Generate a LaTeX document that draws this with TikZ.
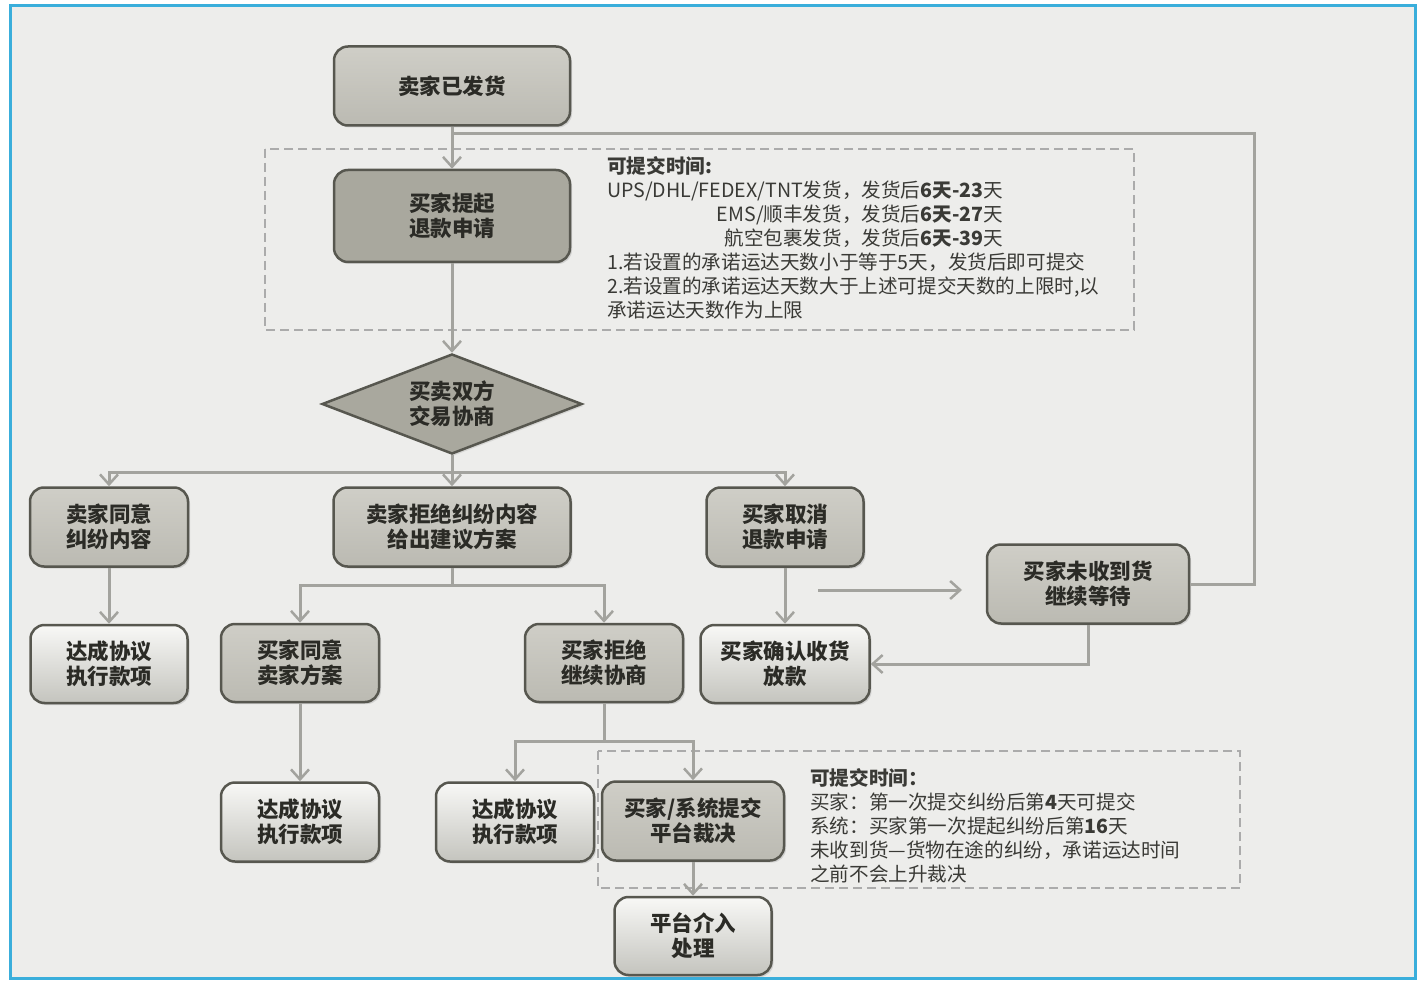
\documentclass[tikz,border=0pt]{standalone}
\usepackage{fontspec}
\setmainfont{Noto Sans CJK SC}
\usetikzlibrary{arrows.meta,shapes.geometric,shadows}
\definecolor{bgc}{HTML}{EDEDEB}
\definecolor{framec}{HTML}{3AAEDB}
\definecolor{bord}{HTML}{57574F}
\definecolor{midT}{HTML}{CFCEC7}
\definecolor{midB}{HTML}{BBBAB2}
\definecolor{darkF}{HTML}{A9A89E}
\definecolor{lightT}{HTML}{F8F8F6}
\definecolor{lightB}{HTML}{C4C4BE}
\definecolor{connc}{HTML}{A3A39E}
\definecolor{dashc}{HTML}{ABABAB}
\definecolor{txtc}{HTML}{2B2B26}
\definecolor{notec}{HTML}{3A3A36}
\newcommand\boxtxt{\fontsize{21.5}{25}\selectfont\bfseries}
\newcommand\notetxt{\fontsize{19.6}{24}\selectfont}
\newlength\upsw
\tikzset{
  box/.style={draw=bord, line width=2.5pt, rounded corners=14pt, align=center,
    font=\boxtxt, text=txtc, inner sep=0pt,
    drop shadow={opacity=0.25, shadow xshift=2pt, shadow yshift=-2pt}},
  midbox/.style={box, top color=midT, bottom color=midB},
  darkbox/.style={box, fill=darkF},
  lightbox/.style={box, top color=lightT, bottom color=lightB},
  conn/.style={draw=connc, line width=3pt},
  arr/.style={conn, -{Straight Barb[length=10pt,width=18pt,line width=2.5pt]}},
  dbox/.style={draw=dashc, line width=2pt, dash pattern=on 9pt off 5pt},
  note/.style={align=left, anchor=north west, inner sep=0pt, font=\notetxt, text=notec},
}
\begin{document}
\settowidth{\upsw}{\notetxt UPS/DHL/FEDEX/TNT发货，发货后\textbf{6天-23}天}%
\begin{tikzpicture}[x=1pt,y=-1pt]
\useasboundingbox (0,0) rectangle (1423,981);
\fill[white] (0,0) rectangle (1423,981);
\fill[bgc] (10,6) rectangle (1415,978);
\draw[framec, line width=3pt] (10,6) rectangle (1415,978);

% dashed annotation frames
\draw[dbox] (265,149) rectangle (1134,330);
\draw[dbox] (598,751) rectangle (1240,888);

% nodes
\node[midbox, minimum width=236pt, minimum height=79pt] (n1) at (452,86) {卖家已发货};
\node[darkbox, minimum width=236pt, minimum height=92pt] (n2) at (452,216) {买家提起\\退款申请};
\node[draw=bord, line width=2.5pt, fill=darkF, shape=diamond, aspect=2.6, inner sep=0pt,
  minimum width=260pt, minimum height=100pt, align=center, font=\boxtxt, text=txtc,
  drop shadow={opacity=0.2, shadow xshift=2pt, shadow yshift=-2pt}] (dia) at (452,404) {买卖双方\\交易协商};
\node[midbox, minimum width=158pt, minimum height=79pt] (n4) at (109,527) {卖家同意\\纠纷内容};
\node[midbox, minimum width=237pt, minimum height=79pt] (n5) at (452,527) {卖家拒绝纠纷内容\\给出建议方案};
\node[midbox, minimum width=157pt, minimum height=79pt] (n6) at (785,527) {买家取消\\退款申请};
\node[midbox, minimum width=202pt, minimum height=79pt] (n7) at (1088,584) {买家未收到货\\继续等待};
\node[lightbox, minimum width=157pt, minimum height=78pt] (n8) at (109,664) {达成协议\\执行款项};
\node[midbox, minimum width=158pt, minimum height=78pt] (n9) at (300,663) {买家同意\\卖家方案};
\node[midbox, minimum width=158pt, minimum height=78pt] (n10) at (604,663) {买家拒绝\\继续协商};
\node[lightbox, minimum width=169pt, minimum height=78pt] (n11) at (785,664) {买家确认收货\\放款};
\node[lightbox, minimum width=158pt, minimum height=79pt] (n12) at (300,822) {达成协议\\执行款项};
\node[lightbox, minimum width=158pt, minimum height=79pt] (n13) at (515,822) {达成协议\\执行款项};
\node[midbox, minimum width=182pt, minimum height=79pt] (n14) at (693,821) {买家/系统提交\\平台裁决};
\node[lightbox, minimum width=157pt, minimum height=78pt] (n15) at (693,936) {平台介入\\处理};

% helper coordinates
\coordinate (loopR) at (1254,134);
\coordinate (join1) at (452,134);
\coordinate (split1) at (452,472);
\coordinate (split2) at (452,585);
\coordinate (split3) at (604,741);
\coordinate (freeA) at (818,590);
\coordinate (freeB) at (962,590);

% connectors
\draw[arr] (n1) -- (n2);
\draw[conn] (n7.east) -| (loopR) -- (join1);
\draw[arr] (n2) -- (dia);
\draw[conn] (dia.south) -- (split1);
\draw[arr] (split1) -| (n4.north);
\draw[arr] (split1) -- (n5.north);
\draw[arr] (split1) -| (n6.north);
\draw[arr] (n4) -- (n8);
\draw[conn] (n5.south) -- (split2);
\draw[arr] (split2) -| (n9.north);
\draw[arr] (split2) -| (n10.north);
\draw[arr] (n6) -- (n11);
\draw[arr] (freeA) -- (freeB);
\draw[arr] (n7.south) |- (n11.east);
\draw[arr] (n9) -- (n12);
\draw[conn] (n10.south) -- (split3);
\draw[arr] (split3) -| (n13.north);
\draw[arr] (split3) -| (n14.north);
\draw[arr] (n14) -- (n15);

% annotations
\node[note] (t1) at (607,156) {\textbf{可提交时间:}\\
UPS/DHL/FEDEX/TNT发货，发货后\textbf{6天-23}天\\
\makebox[\upsw][r]{EMS/顺丰发货，发货后\textbf{6天-27}天}\\
\makebox[\upsw][r]{航空包裹发货，发货后\textbf{6天-39}天}\\
1.若设置的承诺运达天数小于等于5天，发货后即可提交\\
2.若设置的承诺运达天数大于上述可提交天数的上限时,以\\
承诺运达天数作为上限};
\node[note] (t2) at (810,768) {\textbf{可提交时间：}\\
买家：第一次提交纠纷后第\textbf{4}天可提交\\
系统：买家第一次提起纠纷后第\textbf{16}天\\
未收到货—货物在途的纠纷，承诺运达时间\\
之前不会上升裁决};
\end{tikzpicture}
\end{document}
